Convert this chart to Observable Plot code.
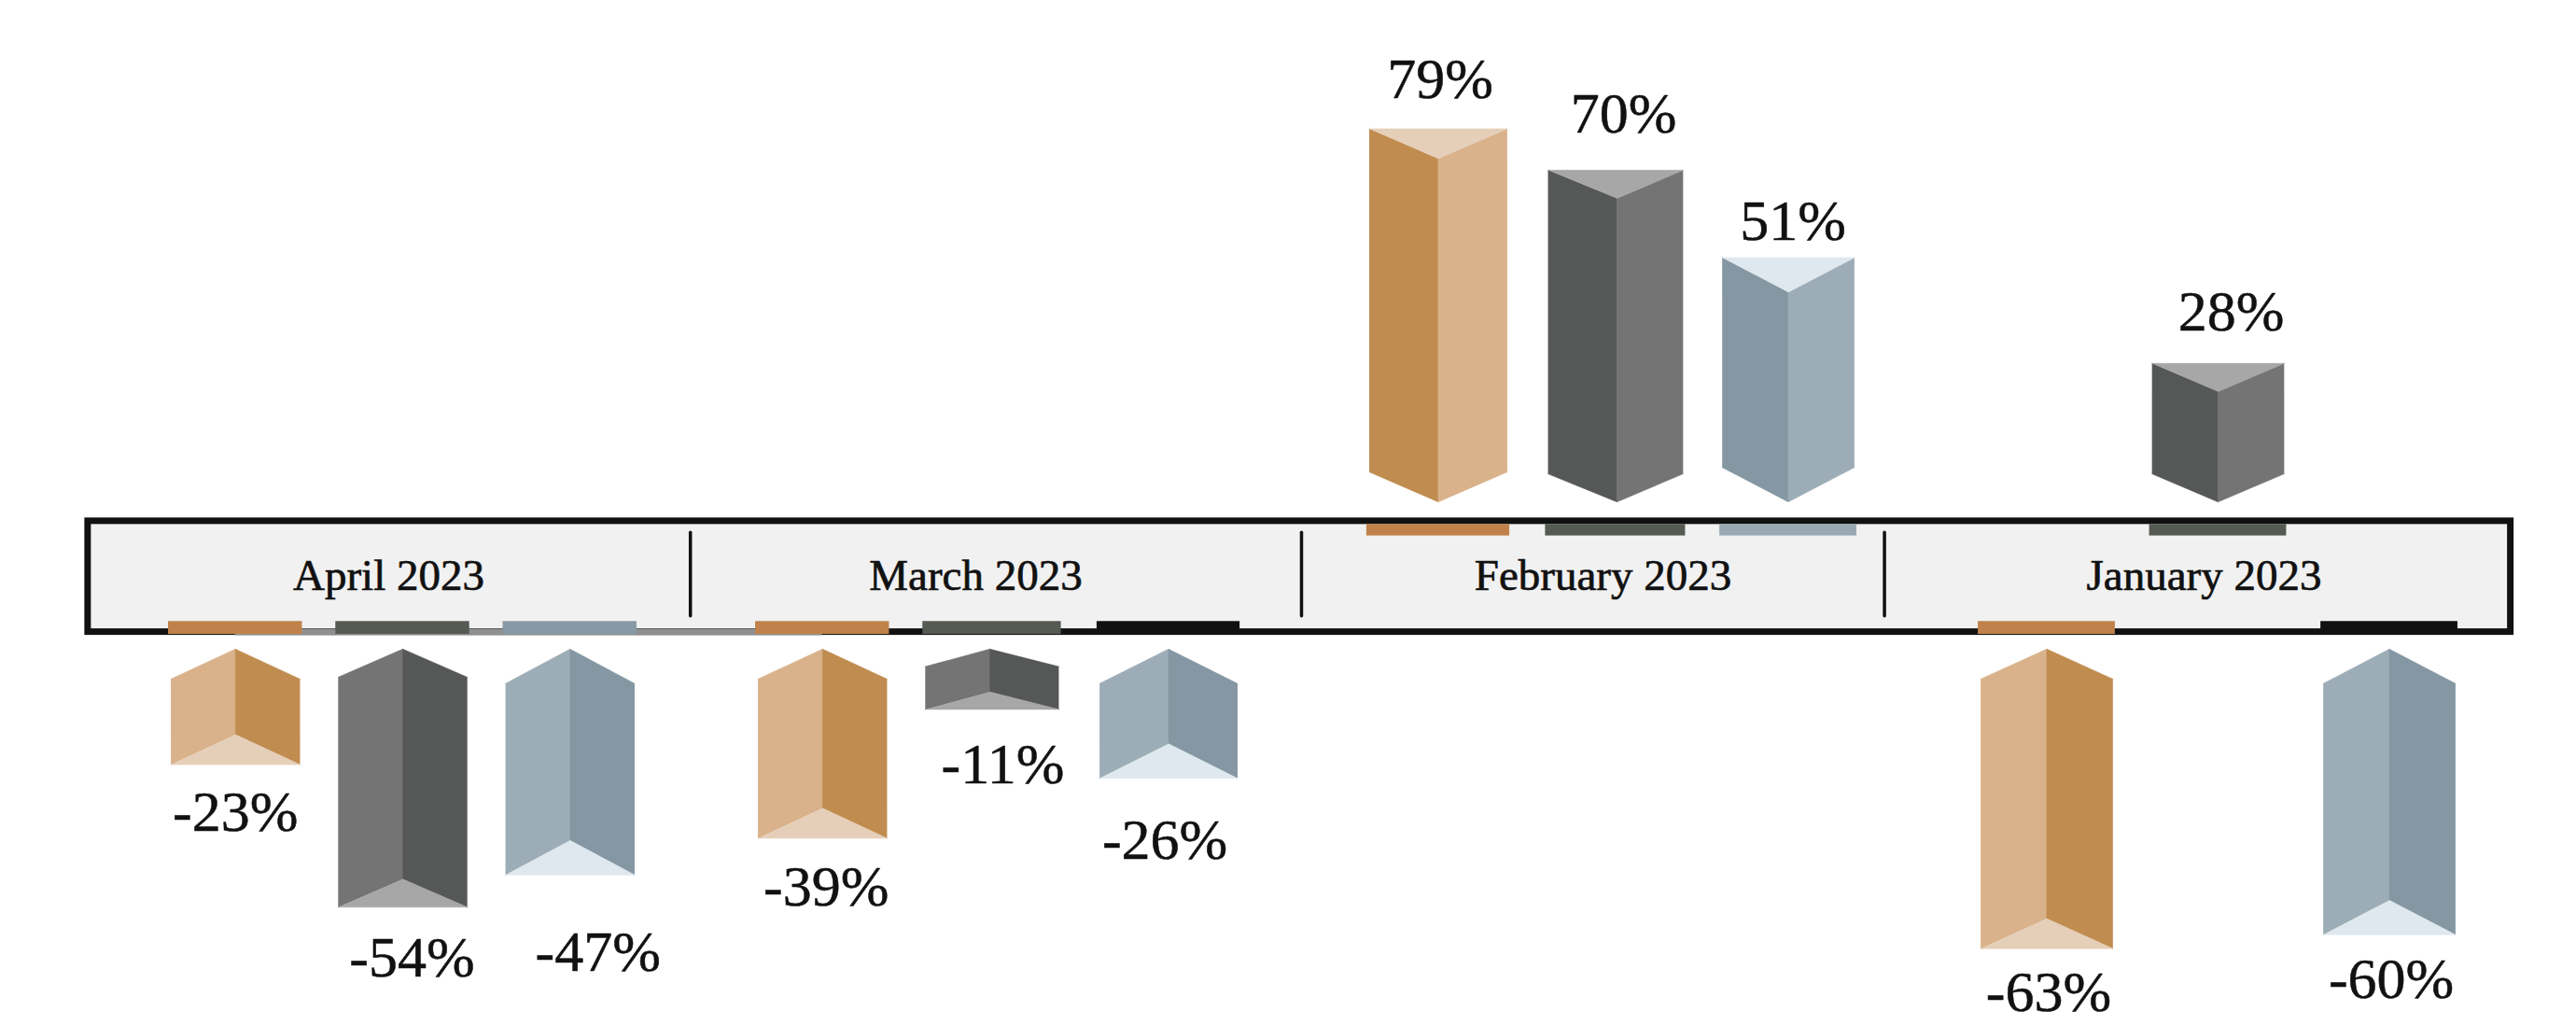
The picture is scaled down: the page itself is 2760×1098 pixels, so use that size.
<!DOCTYPE html>
<html>
<head>
<meta charset="utf-8">
<script src="https://cdn.jsdelivr.net/npm/d3@7"></script>
<script src="https://cdn.jsdelivr.net/npm/@observablehq/plot@0.6"></script>
<style>html,body{margin:0;padding:0;background:#fff}svg{display:block}</style>
</head>
<body>
<div id="chart"></div>
<script>
const months = ["April 2023", "March 2023", "February 2023", "January 2023"];
const tanValues = [-23, -39, 79, -63];
const greyValues = [-54, -11, 70, 28];
const blueValues = [-47, -26, 51, -60];

const palette = [
  {values: tanValues,  dark: "#c08c4f", light: "#d9b28b", cap: "#e6cfb9", depth: 6.5, stick: ["#c0824a", "#c0824a", "#c0824a", "#c0824a"]},
  {values: greyValues, dark: "#555856", light: "#747474", cap: "#a6a7a6", depth: 6.1, stick: ["#555b52", "#555b52", "#555b52", "#555b52"]},
  {values: blueValues, dark: "#8497a2", light: "#9dadb7", cap: "#dfe8ee", depth: 7.5, stick: ["#8799a4", "#111111", "#98a9b3", "#111111"]}
];

// Hand placement of the value labels in the reference, in pixels: [dx, dy]
const labelNudge = {
  "-23%": [0, -2], "-54%": [10, 2], "-47%": [30, 30], "-39%": [4, 0], "-11%": [14, 7], "-26%": [-4, 14],
  "79%": [2, 0], "70%": [7, -7], "51%": [5, 14], "28%": [14, -2], "-63%": [2, -6], "-60%": [2, -5]
};

// Geometry in scale units: x = month index, y = percent
const slot = 0.285, half = 0.110, stickHalf = 0.114;
const gap = 16, capExtra = 2.1, labelGap = 10.7;

const faces = [], sticks = [], labels = [];
palette.forEach((p, si) => {
  p.values.forEach((v, m) => {
    const s = Math.sign(v), cx = m + (si - 1) * slot;
    const L = Math.abs(v) + capExtra;
    const d = Math.min(p.depth, 0.29 * L);
    const tip = s * gap, end = s * (gap + L);
    const shoulder = s * (gap + d), inner = s * (gap + L - d);
    const l = cx - half, r = cx + half;
    const leftCol = s > 0 ? p.dark : p.light;
    const rightCol = s > 0 ? p.light : p.dark;
    const id = `${m}-${si}`;
    [
      [id + "L", leftCol, [[l, end], [cx, inner], [cx, tip], [l, shoulder]]],
      [id + "R", rightCol, [[r, end], [cx, inner], [cx, tip], [r, shoulder]]],
      [id + "C", p.cap, [[l, end], [r, end], [cx, inner]]]
    ].forEach(([fid, col, pts]) => pts.forEach(([x, y]) => faces.push({id: fid, col, x, y})));
    sticks.push({x1: cx - stickHalf, x2: cx + stickHalf,
      y1: s > 0 ? 11.1 : -10, y2: s > 0 ? 8.6 : -12.8, col: p.stick[m]});
    labels.push({x: cx, y: s * (gap + L + labelGap), t: `${v}%`});
  });
});

const chart = Plot.plot({
  width: 2760, height: 1098,
  marginTop: 0, marginBottom: 0, marginLeft: 0, marginRight: 0,
  x: {type: "linear", domain: [0, 1, 2, 3], range: [431, 1060, 1732, 2376], axis: null},
  y: {type: "linear", domain: [125, -97.81], range: [0, 1098], axis: null},
  color: {type: "identity"},
  marks: [
    Plot.rect([0], {x1: () => -0.536, x2: () => 3.487, y1: () => 11.8, y2: () => -12.3,
      fill: "#f1f1f1", stroke: "#111", strokeWidth: 7}),
    Plot.ruleX([0.49, 1.497, 2.445], {y1: 9.3, y2: -8.9, stroke: "#111", strokeWidth: 3.5, strokeLinecap: "round"}),
    Plot.ruleY([-12.3], {x1: 0 - slot, x2: 1 - slot, stroke: "#8f9091", strokeWidth: 7}),
    Plot.rect(sticks, {x1: "x1", x2: "x2", y1: "y1", y2: "y2", fill: "col"}),
    Plot.line(faces, {x: "x", y: "y", z: "id", fill: "col", stroke: "col", strokeWidth: 0.6, curve: "linear"}),
    Plot.text(months, {x: (d, i) => i, y: () => 0, text: d => d, dx: -15,
      fontFamily: "Liberation Serif", fontSize: 47, fill: "#111", stroke: "#111", strokeWidth: 0.7, lineAnchor: "middle"}),
    ...labels.map(d => Plot.text([d], {x: "x", y: "y", text: "t",
      dx: labelNudge[d.t][0], dy: labelNudge[d.t][1],
      fontFamily: "Liberation Serif", fontSize: 62, fill: "#111", stroke: "#111", strokeWidth: 0.5, lineAnchor: "middle"}))
  ]
});
document.getElementById("chart").appendChild(chart);
</script>
</body>
</html>
